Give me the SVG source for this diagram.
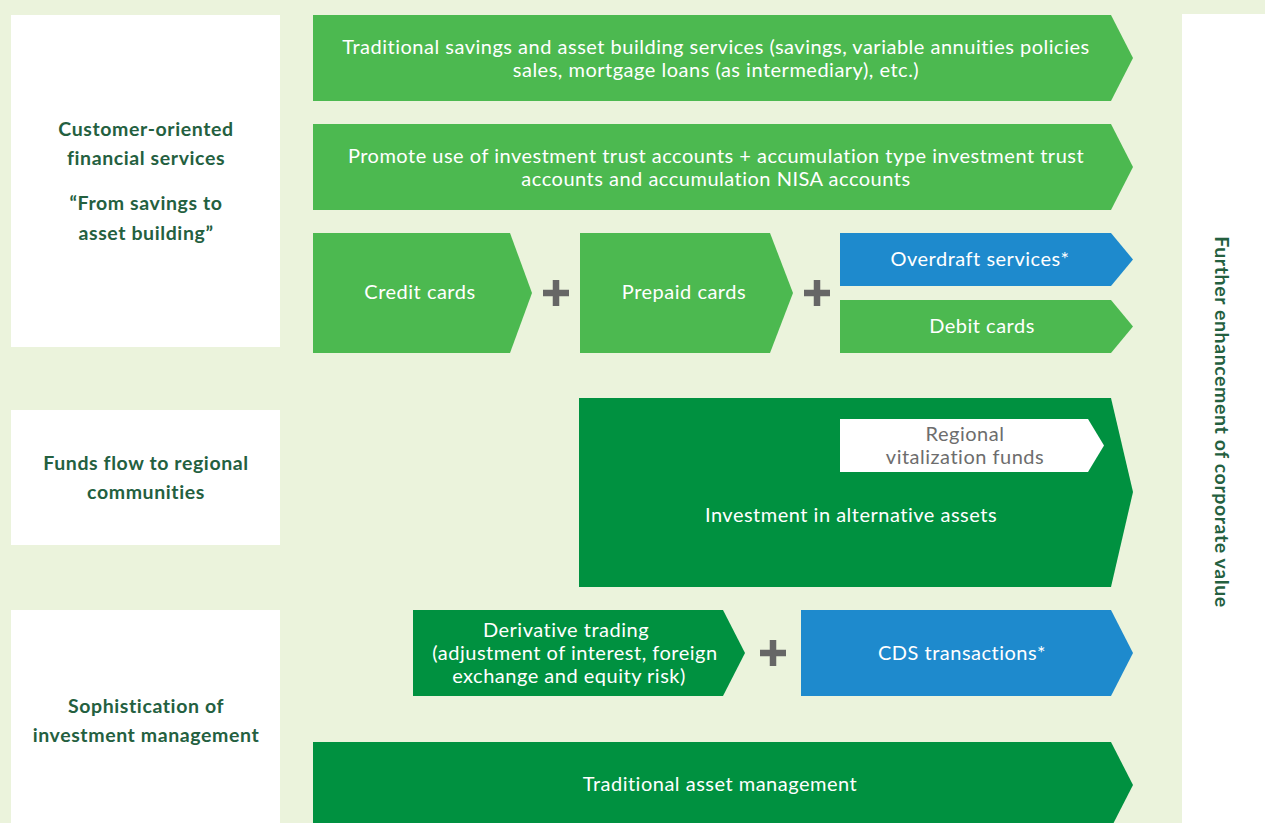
<svg xmlns="http://www.w3.org/2000/svg" width="1265" height="823" viewBox="0 0 1265 823">
<style>
.bg{fill:#ebf3dc}
.panel{fill:#ffffff}
.lg{fill:#4cb950}
.dg{fill:#009140}
.bl{fill:#1e8acd}
.wh{fill:#ffffff}
.t{font-family:Lato,"Open Sans","Liberation Sans",sans-serif;font-size:20px;letter-spacing:0.5px;fill:#ffffff;text-anchor:middle}
.tg{font-family:Lato,"Open Sans","Liberation Sans",sans-serif;font-size:20px;letter-spacing:0.5px;fill:#6d6d6d;text-anchor:middle}
.lbl{font-family:Lato,"Open Sans","Liberation Sans",sans-serif;font-size:19.5px;letter-spacing:0.6px;font-weight:bold;fill:#24603f;text-anchor:middle}
.plus{stroke:#666666;stroke-width:6.5;fill:none}
</style>
<rect class="bg" x="0" y="0" width="1265" height="823"/>
<rect class="panel" x="1182" y="14" width="83" height="809"/>
<g id="label-customer">
<rect class="panel" x="11" y="15" width="269" height="332"/>
<text class="lbl" x="146" y="136">Customer-oriented</text>
<text class="lbl" x="146" y="165">financial services</text>
<text class="lbl" x="146" y="210">“From savings to</text>
<text class="lbl" x="146" y="240">asset building”</text>
</g>
<g id="label-funds">
<rect class="panel" x="11" y="410" width="269" height="135"/>
<text class="lbl" x="146" y="470">Funds flow to regional</text>
<text class="lbl" x="146" y="499">communities</text>
</g>
<g id="label-sophistication">
<rect class="panel" x="11" y="610" width="269" height="213"/>
<text class="lbl" x="146" y="713">Sophistication of</text>
<text class="lbl" x="146" y="742">investment management</text>
</g>
<g id="label-value">
<text class="lbl" transform="translate(1215,422) rotate(90)" x="0" y="0">Further enhancement of corporate value</text>
</g>
<g id="traditional-savings">
<polygon class="lg" points="313,15 1111,15 1133,58 1111,101 313,101"/>
<text class="t" x="716" y="54">Traditional savings and asset building services (savings, variable annuities policies</text>
<text class="t" x="716" y="77">sales, mortgage loans (as intermediary), etc.)</text>
</g>
<g id="promote">
<polygon class="lg" points="313,124 1111,124 1133,167 1111,210 313,210"/>
<text class="t" x="716" y="163">Promote use of investment trust accounts + accumulation type investment trust</text>
<text class="t" x="716" y="186">accounts and accumulation NISA accounts</text>
</g>
<g id="credit-cards">
<polygon class="lg" points="313,233 510,233 532,293 510,353 313,353"/>
<text class="t" x="420" y="299">Credit cards</text>
</g>
<g id="prepaid-cards">
<polygon class="lg" points="580,233 770,233 793,293 770,353 580,353"/>
<text class="t" x="684" y="299">Prepaid cards</text>
</g>
<g id="overdraft">
<polygon class="bl" points="840,233 1111,233 1133,259.5 1111,286 840,286"/>
<text class="t" x="980" y="266">Overdraft services*</text>
</g>
<g id="debit-cards">
<polygon class="lg" points="840,300 1111,300 1133,326.5 1111,353 840,353"/>
<text class="t" x="982" y="333">Debit cards</text>
</g>
<g id="alternative-assets">
<polygon class="dg" points="579,398 1111,398 1133,492 1111,587 579,587"/>
<text class="t" x="851" y="522">Investment in alternative assets</text>
</g>
<g id="regional-funds">
<polygon class="wh" points="840,419 1088,419 1104,445.5 1088,472 840,472"/>
<text class="tg" x="965" y="441">Regional</text>
<text class="tg" x="965" y="464">vitalization funds</text>
</g>
<g id="derivative">
<polygon class="dg" points="413,610 723,610 745,653 723,696 413,696"/>
<text class="t" x="566" y="637">Derivative trading</text>
<text class="t" x="575" y="660">(adjustment of interest, foreign</text>
<text class="t" x="569" y="683">exchange and equity risk)</text>
</g>
<g id="cds">
<polygon class="bl" points="801,610 1111,610 1133,653 1111,696 801,696"/>
<text class="t" x="962" y="660">CDS transactions*</text>
</g>
<g id="traditional-asset">
<polygon class="dg" points="313,742 1111,742 1133,785 1111,828 313,828"/>
<text class="t" x="720" y="791">Traditional asset management</text>
</g>
<g id="connectors">
<path class="plus" d="M543,293 H569 M556,280 V306"/>
<path class="plus" d="M804,293 H830 M817,280 V306"/>
<path class="plus" d="M760,653 H786 M773,640 V666"/>
</g>
</svg>
